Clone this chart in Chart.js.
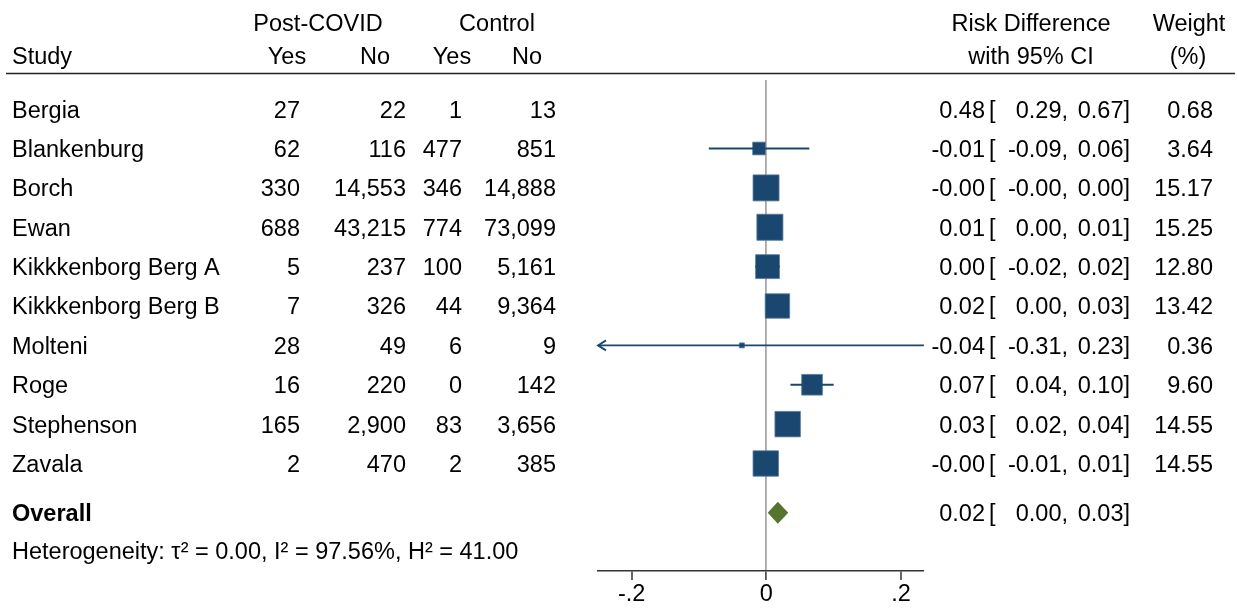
<!DOCTYPE html>
<html>
<head>
<meta charset="utf-8">
<title>Risk difference forest plot</title>
<script src="https://cdn.jsdelivr.net/npm/chart.js@4.4.1/dist/chart.umd.min.js"></script>
<style>
    html, body { margin: 0; padding: 0; background: #fff; }
    #wrap { width: 1237px; height: 610px; }
</style>
</head>
<body>
<div id="wrap"><canvas id="forest" width="1237" height="610"></canvas></div>
<script>
// Study rows
const studies = ['Bergia', 'Blankenburg', 'Borch', 'Ewan', 'Kikkkenborg Berg A',
    'Kikkkenborg Berg B', 'Molteni', 'Roge', 'Stephenson', 'Zavala'];
const postYes = [27, 62, 330, 688, 5, 7, 28, 16, 165, 2];
const postNo = [22, 116, 14553, 43215, 237, 326, 49, 220, 2900, 470];
const ctrlYes = [1, 477, 346, 774, 100, 44, 6, 0, 83, 2];
const ctrlNo = [13, 851, 14888, 73099, 5161, 9364, 9, 142, 3656, 385];

// Risk differences with 95% CI, and weights (%)
const riskDiff = [0.4796, -0.0109, -0.0005, 0.0052, 0.0017, 0.0164, -0.0364, 0.0678, 0.0316, -0.0009];
const ciLower = [0.2857, -0.0855, -0.0039, 0.0038, -0.0166, 0.0009, -0.3066, 0.0357, 0.0223, -0.0101];
const ciUpper = [0.6735, 0.0637, 0.0028, 0.0066, 0.0200, 0.0318, 0.2338, 0.0999, 0.0409, 0.0083];
const weights = [0.68, 3.64, 15.17, 15.25, 12.80, 13.42, 0.36, 9.60, 14.55, 14.55];

// Pooled estimate and heterogeneity
const overallRD = [0.0170];
const overallLower = [0.0020];
const overallUpper = [0.0325];
const tau2 = [0.00];
const iSquared = [97.56];
const hSquared = [41.00];

// Axis
const xRange = [-0.25, 0.234];
const xTicks = [-0.2, 0, 0.2];
const xTickLabels = ['-.2', '0', '.2'];

const NAVY = '#1a476f';
const GREEN = '#55752f';
const FONT = "'Liberation Sans', Arial, Helvetica, sans-serif";
const FONT_SIZE = 23.5;
const SQUARE_K = 6.68;          // square side in px per sqrt(weight)
const MIN_SIDE = 5;
const ROW_TOP = -0.74, ROW_BOTTOM = 11.73;
const OVERALL_ROW = studies.length + 0.25;
const HET_ROW = studies.length + 1.22;

const fmt2 = v => v.toFixed(2);
const fmtN = v => v.toLocaleString('en-US');

// table text, header rule and the heterogeneity note
const tablePlugin = {
    id: 'studyTable',
    afterDraw(chart) {
        const { ctx } = chart;
        const y = chart.scales.y;
        ctx.save();
        ctx.fillStyle = '#000';
        const put = (txt, x, row, align, bold) => {
            ctx.font = (bold ? 'bold ' : '') + FONT_SIZE + 'px ' + FONT;
            ctx.textAlign = align;
            ctx.fillText(txt, x, y.getPixelForValue(row) + 8.4);
        };

        // header
        put('Post-COVID', 318, -2.2, 'center');
        put('Control', 497, -2.2, 'center');
        put('Risk Difference', 1031, -2.2, 'center');
        put('Weight', 1189, -2.2, 'center');
        put('Study', 12, -1.35, 'left');
        put('Yes', 287, -1.35, 'center');
        put('No', 375, -1.35, 'center');
        put('Yes', 452, -1.35, 'center');
        put('No', 527, -1.35, 'center');
        put('with 95% CI', 1031, -1.35, 'center');
        put('(%)', 1188, -1.35, 'center');

        ctx.strokeStyle = '#222';
        ctx.lineWidth = 1.5;
        ctx.beginPath();
        const ruleY = Math.round(y.getPixelForValue(-0.92)) + 0.5;
        ctx.moveTo(6, ruleY);
        ctx.lineTo(1235, ruleY);
        ctx.stroke();

        const ciText = (est, lo, hi, row) => {
            put(fmt2(est), 985, row, 'right');
            put('[', 989, row, 'left');
            put(fmt2(lo) + ',', 1068, row, 'right');
            put(fmt2(hi) + ']', 1130, row, 'right');
        };

        studies.forEach((name, i) => {
            put(name, 12, i, 'left');
            put(fmtN(postYes[i]), 300, i, 'right');
            put(fmtN(postNo[i]), 406, i, 'right');
            put(fmtN(ctrlYes[i]), 462, i, 'right');
            put(fmtN(ctrlNo[i]), 556, i, 'right');
            ciText(riskDiff[i], ciLower[i], ciUpper[i], i);
            put(fmt2(weights[i]), 1213, i, 'right');
        });

        put('Overall', 12, OVERALL_ROW, 'left', true);
        ciText(overallRD[0], overallLower[0], overallUpper[0], OVERALL_ROW);

        put('Heterogeneity: \u03c4\u00b2 = ' + fmt2(tau2[0]) + ', I\u00b2 = ' + fmt2(iSquared[0]) +
            '%, H\u00b2 = ' + fmt2(hSquared[0]), 12, HET_ROW, 'left');
        ctx.restore();
    }
};

// pooled diamond and arrows for intervals running off the axis
const markPlugin = {
    id: 'forestMarks',
    afterDatasetsDraw(chart) {
        const { ctx, chartArea } = chart;
        const x = chart.scales.x, y = chart.scales.y;
        ctx.save();

        const yp = y.getPixelForValue(OVERALL_ROW);
        ctx.fillStyle = GREEN;
        ctx.beginPath();
        ctx.moveTo(x.getPixelForValue(overallLower[0]), yp);
        ctx.lineTo(x.getPixelForValue(overallRD[0]), yp - 11);
        ctx.lineTo(x.getPixelForValue(overallUpper[0]), yp);
        ctx.lineTo(x.getPixelForValue(overallRD[0]), yp + 11);
        ctx.closePath();
        ctx.fill();

        ctx.strokeStyle = NAVY;
        ctx.lineWidth = 1.8;
        studies.forEach((s, i) => {
            const py = y.getPixelForValue(i);
            if (ciLower[i] < xRange[0] && ciUpper[i] > xRange[0]) {
                const tip = chartArea.left;
                ctx.beginPath();
                ctx.moveTo(tip + 8, py - 5);
                ctx.lineTo(tip, py);
                ctx.lineTo(tip + 8, py + 5);
                ctx.stroke();
            }
            if (ciUpper[i] > xRange[1] && ciLower[i] < xRange[1]) {
                const tip = chartArea.right;
                ctx.beginPath();
                ctx.moveTo(tip - 8, py - 5);
                ctx.lineTo(tip, py);
                ctx.lineTo(tip - 8, py + 5);
                ctx.stroke();
            }
        });
        ctx.restore();
    }
};

const whiskers = studies.map((s, i) => ({
    label: s,
    data: [{ x: ciLower[i], y: i }, { x: ciUpper[i], y: i }],
    showLine: true,
    borderColor: NAVY,
    borderWidth: 1.8,
    pointRadius: 0
}));

const squares = {
    label: 'Risk difference',
    data: studies.map((s, i) => ({ x: riskDiff[i], y: i })),
    pointStyle: 'rect',
    pointRadius: ctx => Math.max(MIN_SIDE, SQUARE_K * Math.sqrt(weights[ctx.dataIndex])) / Math.SQRT2,
    backgroundColor: NAVY,
    borderColor: '#5d7d9d',
    borderWidth: 0.8
};

new Chart(document.getElementById('forest'), {
    type: 'scatter',
    data: { datasets: [...whiskers, squares] },
    plugins: [markPlugin, tablePlugin],
    options: {
        responsive: false,
        animation: false,
        devicePixelRatio: 1,
        layout: { padding: { left: 598, right: 313, top: 80, bottom: 0 } },
        plugins: { legend: { display: false }, tooltip: { enabled: false } },
        scales: {
            x: {
                type: 'linear',
                min: xRange[0],
                max: xRange[1],
                afterBuildTicks: scale => { scale.ticks = xTicks.map(v => ({ value: v })); },
                afterFit: scale => { scale.height = 39; },
                ticks: {
                    autoSkip: false,
                    maxRotation: 0,
                    padding: 0,
                    color: '#000',
                    font: { family: FONT, size: FONT_SIZE },
                    callback: v => xTickLabels[xTicks.indexOf(v)]
                },
                grid: {
                    color: c => (c.tick && c.tick.value === 0 ? '#a8a8a8' : 'rgba(0,0,0,0)'),
                    lineWidth: c => (c.tick && c.tick.value === 0 ? 1.8 : 0),
                    tickLength: 9,
                    tickColor: '#333',
                    tickWidth: 1.5
                },
                border: { display: true, color: '#333', width: 1.5 }
            },
            y: {
                type: 'linear',
                display: false,
                reverse: true,
                min: ROW_TOP,
                max: ROW_BOTTOM
            }
        }
    }
});
</script>
</body>
</html>
